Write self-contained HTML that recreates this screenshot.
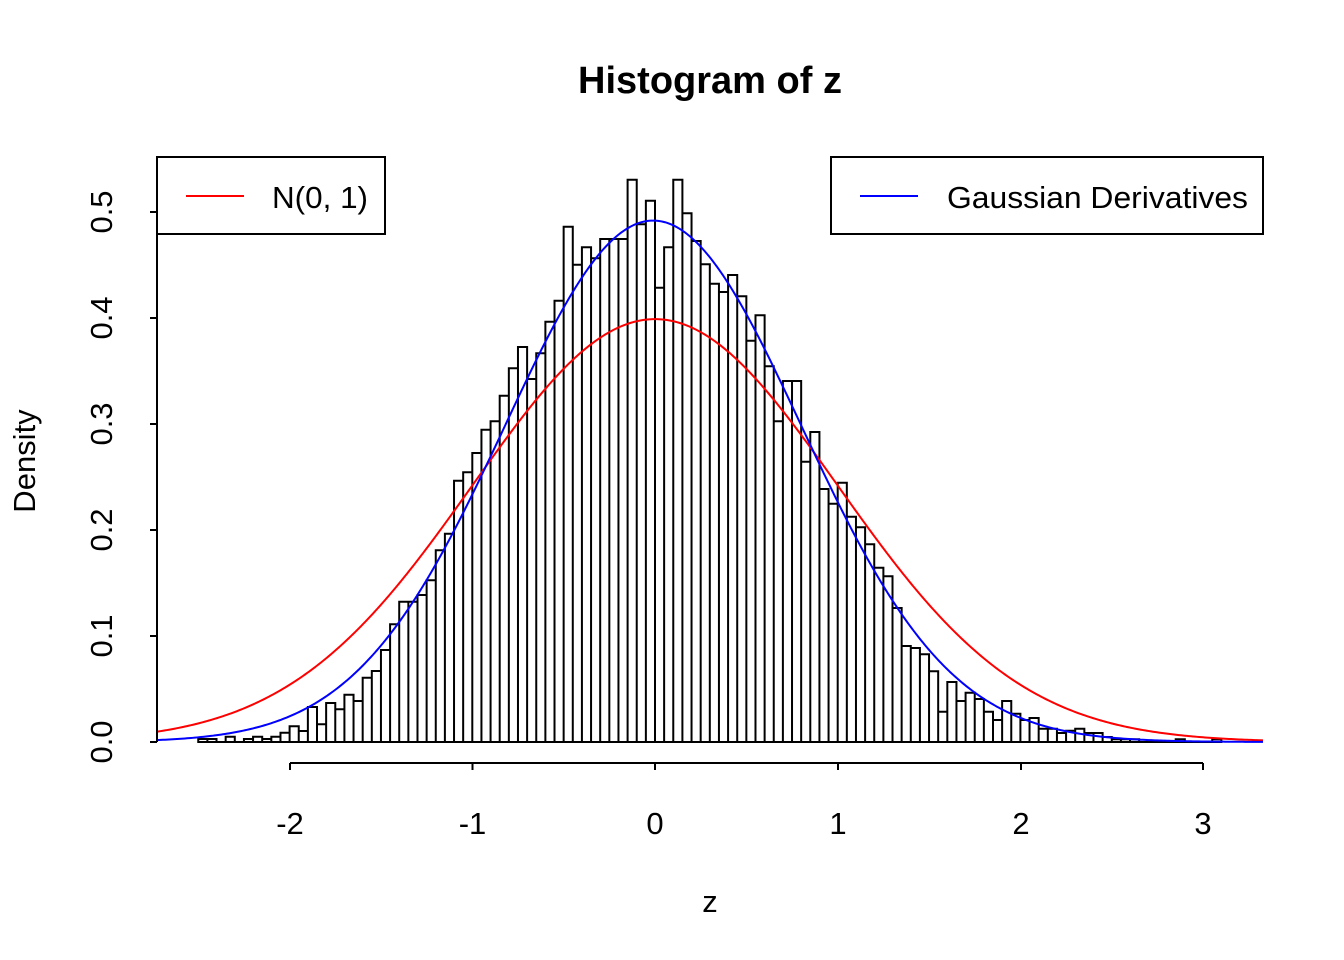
<!DOCTYPE html>
<html><head><meta charset="utf-8"><style>
body{margin:0;background:#fff}
svg{display:block;font-family:"Liberation Sans",Arial,sans-serif}
</style></head><body>
<svg id="s" width="1344" height="960" xmlns="http://www.w3.org/2000/svg">
<rect width="1344" height="960" fill="#fff"/>
<text x="710" y="93" font-size="38" font-weight="bold" text-anchor="middle">Histogram of z</text>
<g id="bars" fill="none" stroke="#000" stroke-width="2"></g>
<path id="red" fill="none" stroke="#ff0000" stroke-width="2"/>
<path id="blue" fill="none" stroke="#0000ff" stroke-width="2"/>
<g stroke="#000" stroke-width="2" fill="none">
<path d="M157,212V742M157,212H150M157,318H150M157,424H150M157,530H150M157,636H150M157,742H150"/>
<path d="M290,763H1203M290,763V770M472.5,763V770M655,763V770M838,763V770M1021,763V770M1203,763V770"/>
<rect x="157" y="157" width="228" height="77" fill="#fff"/>
<rect x="831" y="157" width="432" height="77" fill="#fff"/>
</g>
<path d="M186,196H244" stroke="#ff0000" stroke-width="2"/>
<path d="M860,196H918" stroke="#0000ff" stroke-width="2"/>
<g font-size="31">
<text x="272" y="208" textLength="96" lengthAdjust="spacingAndGlyphs">N(0, 1)</text>
<text x="947" y="208" textLength="301" lengthAdjust="spacingAndGlyphs">Gaussian Derivatives</text>
</g>
<g font-size="31" text-anchor="middle">
<text x="290" y="834">-2</text><text x="472.5" y="834">-1</text><text x="655" y="834">0</text>
<text x="838" y="834">1</text><text x="1021" y="834">2</text><text x="1203" y="834">3</text>
<text x="710" y="912">z</text>
<text transform="translate(112,742) rotate(-90)">0.0</text>
<text transform="translate(112,636) rotate(-90)">0.1</text>
<text transform="translate(112,530) rotate(-90)">0.2</text>
<text transform="translate(112,424) rotate(-90)">0.3</text>
<text transform="translate(112,318) rotate(-90)">0.4</text>
<text transform="translate(112,212) rotate(-90)">0.5</text>
<text transform="translate(35,461) rotate(-90)">Density</text>
</g>
</svg>
<script>
var tops=[739,739,742,736.7,742,739,736.7,739,736.7,732.7,726.3,731,707,724.3,703,709.3,694.7,701,677.7,671,650,624.3,601.7,601.7,595,580.3,550.3,533.7,480.7,472.3,453,429.7,421.3,395.7,368.3,347,379,353.3,321.7,300.7,226.7,264.7,247.3,258.3,239,239,239,179.7,224.3,200.7,287.7,247.3,179.7,213.3,241,264.3,283.7,292,275,296.3,340.7,315.3,366.3,421.3,381,381,461.7,432,489,503.7,482.7,516.7,527.3,544.3,567.7,576.3,608,646,648,654.3,671.3,711.7,682,701,692.7,699,711.7,720,701,713.7,720,718,728.7,728.7,733,730.7,728.7,733,733,737,739.3,739.3,739.3,742,742,742,742,739.3,742,742,742,739.3];
var d="";var w=9.135;
for(var i=0;i<tops.length;i++){var x=198.25+w*i;var t=tops[i];if(t>=742)continue;d+="M"+x.toFixed(2)+",742V"+t+"H"+(x+w).toFixed(2)+"V742Z";}
var p=document.createElementNS("http://www.w3.org/2000/svg","path");p.setAttribute("d",d);document.getElementById("bars").appendChild(p);
document.getElementById("bars").insertAdjacentHTML("beforeend",'<path d="M198,742H1222"/>');
function curve(f){var s="";for(var px=157;px<=1263;px+=2){var z=(px-655)/182.7;s+=(px==157?"M":"L")+px+","+(742-1060*f(z)).toFixed(2);}return s;}
document.getElementById("red").setAttribute("d",curve(function(z){return Math.exp(-z*z/2)/Math.sqrt(2*Math.PI);}));
document.getElementById("blue").setAttribute("d",curve(function(z){var s=0.811,u=(z+0.01)/s;return Math.exp(-u*u/2)/(s*Math.sqrt(2*Math.PI));}));
</script>
</body></html>
